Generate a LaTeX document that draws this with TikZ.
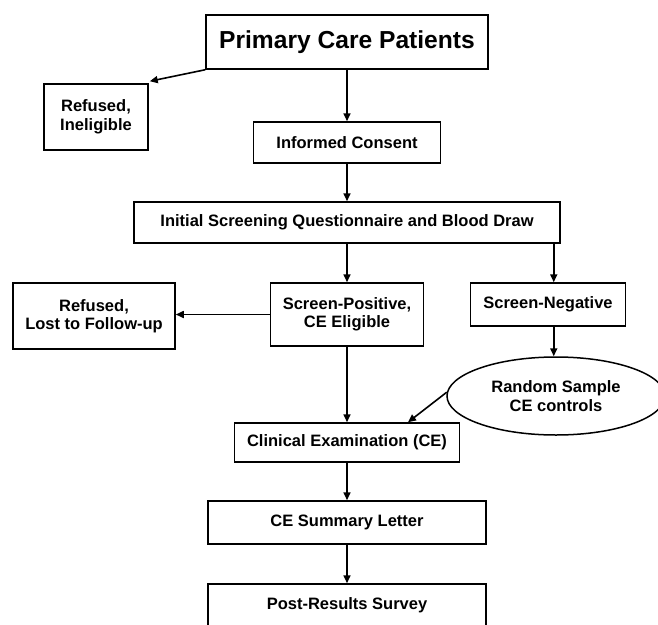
\documentclass[tikz,border=0pt]{standalone}
\usepackage{fontspec}
\setmainfont{Liberation Sans}
\usetikzlibrary{arrows.meta,shapes.geometric}
\begin{document}
\begin{tikzpicture}[x=1pt,y=-1pt,
  box/.style={draw, line width=1.5pt, font=\bfseries\fontsize{16.5}{18.5}\selectfont, align=center, inner sep=0pt},
  arr/.style={line width=1.6pt, -{Triangle[length=8pt,width=7pt]}}]
\useasboundingbox (0,0) rectangle (658,624);
\node[box, minimum width=282pt, minimum height=54pt, font=\bfseries\fontsize{24.6}{28}\selectfont] (pcp) at (347,42) {Primary Care Patients};
\node[box, minimum width=104pt, minimum height=66pt] (ref1) at (96,117) {Refused,\\Ineligible};
\node[box, minimum width=187pt, minimum height=41pt] (ic) at (347,142.5) {Informed Consent};
\node[box, minimum width=426pt, minimum height=41pt] (isq) at (347,222.5) {Initial Screening Questionnaire and Blood Draw};
\node[box, minimum width=162pt, minimum height=66pt] (rl) at (94,316) {Refused,\\Lost to Follow-up};
\node[box, minimum width=153pt, minimum height=63pt] (sp) at (347,314.5) {Screen-Positive,\\CE Eligible};
\node[box, minimum width=155pt, minimum height=43pt] (sn) at (548,304.5) {Screen-Negative};
\node[box, ellipse, minimum width=218pt, minimum height=78pt] (ell) at (556,396) {Random Sample\\CE controls};
\node[box, minimum width=225pt, minimum height=39pt] (ce) at (347,442.5) {Clinical Examination (CE)};
\node[box, minimum width=278pt, minimum height=43pt] (ces) at (347,522.5) {CE Summary Letter};
\node[box, minimum width=278pt, minimum height=43pt] (prs) at (347,605.5) {Post-Results Survey};
\coordinate (snx) at ([xshift=-7pt]isq.south east);
\draw[arr] (pcp) -- (ic);
\draw[arr] (pcp.south west) -- ([xshift=1pt,yshift=2pt]ref1.north east);
\draw[arr] (ic) -- (isq);
\draw[arr] (isq) -- (sp);
\draw[arr] (snx) -- (snx |- sn.north);
\draw[arr] (snx |- sn.south) -- (snx |- ell.north);
\draw[arr] (sp.west) -- (sp.west -| rl.east);
\draw[arr] (sp) -- (ce);
\draw[arr] (ell.178) -- ([xshift=61pt]ce.north);
\draw[arr] (ce) -- (ces);
\draw[arr] (ces) -- (prs);
\end{tikzpicture}
\end{document}
